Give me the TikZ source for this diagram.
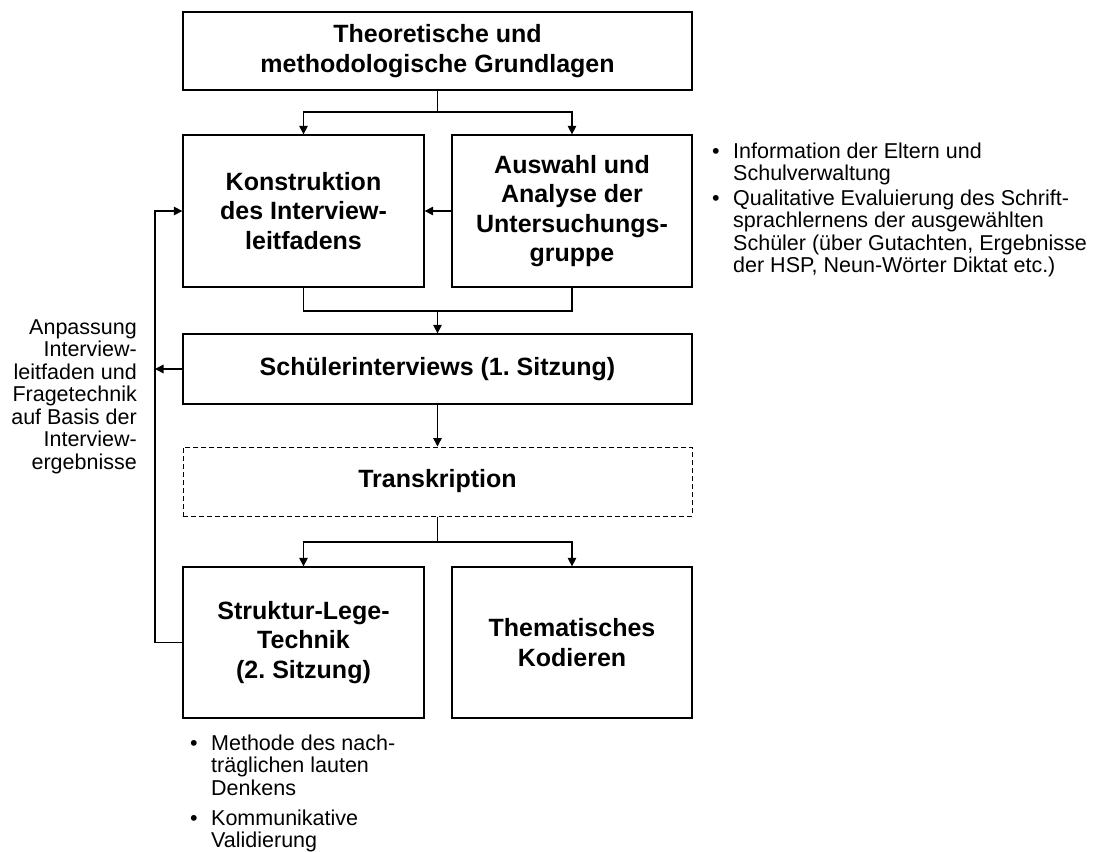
\documentclass[tikz,border=0pt]{standalone}
\usepackage{fontspec}
\setmainfont{Liberation Sans}
\usetikzlibrary{arrows.meta}
\frenchspacing

\tikzset{
  stage/.style={draw=black, line width=1.3pt, align=center, inner sep=0pt,
    font=\fontsize{25}{29.5}\selectfont\bfseries},
  conn/.style={draw=black, line width=1.4pt},
  arr/.style={conn, -{Triangle[length=8.5pt,width=8.5pt]}},
  note/.style={inner sep=0pt, font=\fontsize{21.5}{22.5}\selectfont},
  dot/.style={inner sep=0pt, anchor=base west, font=\fontsize{21.5}{22.5}\selectfont},
}

\begin{document}
\begin{tikzpicture}[x=1pt, y=-1pt]
\useasboundingbox (0,0) rectangle (1097,851);

% process stages
\node[stage, minimum width=509pt, minimum height=78pt] (top) at (437.5,51)
  {Theoretische und\\methodologische Grundlagen};
\node[stage, minimum width=241pt, minimum height=152pt] (kon) at (303.5,211)
  {Konstruktion\\des Interview-\\leitfadens};
\node[stage, minimum width=240pt, minimum height=152pt] (aus) at (572,211)
  {Auswahl und\\Analyse der\\Untersuchungs-\\gruppe};
\node[stage, minimum width=509pt, minimum height=70pt] (sch) at (437.5,369)
  {Schülerinterviews (1. Sitzung)};
\node[stage, dash pattern=on 5pt off 3pt, line width=1pt,
      minimum width=509pt, minimum height=69pt] (tra) at (437.5,481.5)
  {Transkription};
\node[stage, minimum width=241pt, minimum height=151pt] (slt) at (303.5,642.5)
  {Struktur-Lege-\\Technik\\(2. Sitzung)};
\node[stage, minimum width=240pt, minimum height=151pt] (thk) at (572,642.5)
  {Thematisches\\Kodieren};

% junction points
\coordinate (j1) at (437.5,112);
\coordinate (j2) at (437.5,311);
\coordinate (j3) at (437.5,542);
\coordinate (fbb) at (155,642.5);
\coordinate (fbm) at (155,369);
\coordinate (fbt) at (155,211);

% connectors
\draw[conn] (top.south) -- (j1);
\draw[arr] (j1) -| (kon.north);
\draw[arr] (j1) -| (aus.north);
\draw[arr] (aus.west) -- (kon.east);
\draw[conn] (kon.south) |- (j2) -| (aus.south);
\draw[arr] (j2) -- (sch.north);
\draw[arr] (sch.south) -- (tra.north);
\draw[conn] (tra.south) -- (j3);
\draw[arr] (j3) -| (slt.north);
\draw[arr] (j3) -| (thk.north);

% feedback loop
\draw[arr] (slt.west) -- (fbb) -- (fbt) -- (kon.west);
\draw[arr] (sch.west) -- (fbm);

% side notes
\node[note, anchor=north east, align=right] (adapt) at (137,319.5)
  {Anpassung\\Interview-\\leitfaden und\\Fragetechnik\\auf Basis der\\Interview-\\ergebnisse};

\node[dot] (b1) at (712,158) {•};
\node[note, anchor=north west, align=left] (n1) at (733,142.5)
  {Information der Eltern und\\Schulverwaltung};
\node[dot] (b2) at (712,205) {•};
\node[note, anchor=north west, align=left] (n2) at (733,189.5)
  {Qualitative Evaluierung des Schrift-\\sprachlernens der ausgewählten\\Schüler (über Gutachten, Ergebnisse\\der HSP, Neun-Wörter Diktat etc.)};

\node[dot] (b3) at (190,750) {•};
\node[note, anchor=north west, align=left] (n3) at (211,734.5)
  {Methode des nach-\\träglichen lauten\\Denkens};
\node[dot] (b4) at (190,825) {•};
\node[note, anchor=north west, align=left] (n4) at (211,809.5)
  {Kommunikative\\Validierung};
\end{tikzpicture}
\end{document}
